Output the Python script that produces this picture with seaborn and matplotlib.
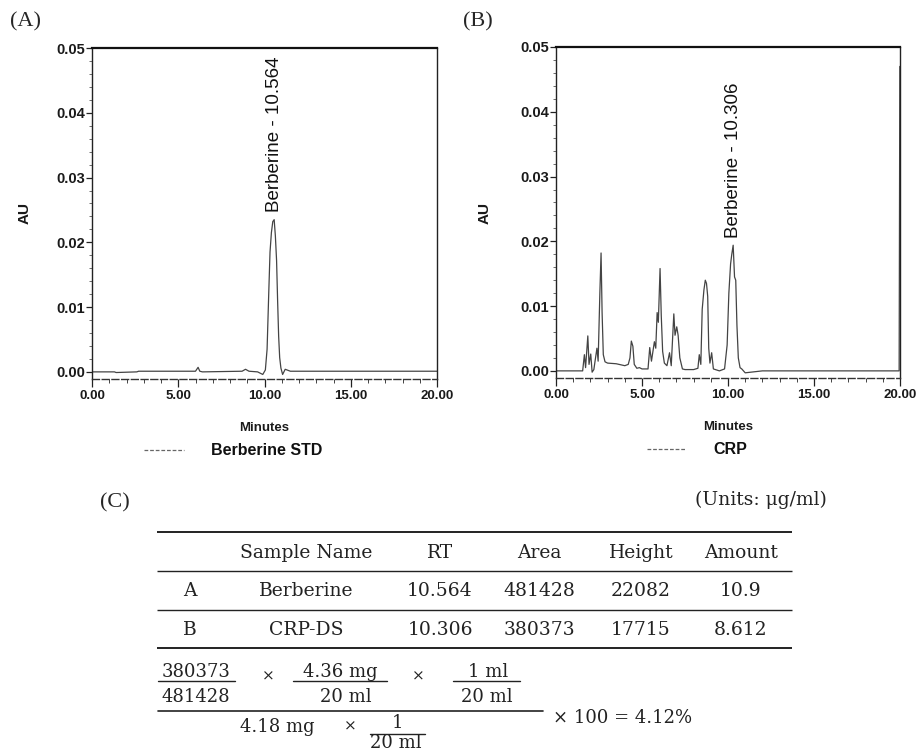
import matplotlib
matplotlib.use("Agg")
import matplotlib.pyplot as plt
import seaborn as sns
import pandas as pd
from matplotlib.lines import Line2D
from matplotlib.ticker import MultipleLocator, FormatStrFormatter

# ---------------- data ----------------
std_time = [0.0, 1.3, 1.4, 2.6, 2.7, 6.0, 6.15, 6.25, 6.4, 8.7, 8.9, 9.1, 9.6, 9.9,
            10.05, 10.15, 10.25, 10.32, 10.40, 10.48, 10.56, 10.63, 10.70, 10.76,
            10.82, 10.88, 10.95, 11.05, 11.2, 11.5, 20.0]
std_au = [0.0, 0.0, -0.0001, 0.0, 0.0001, 0.0001, 0.0007, 0.0001, 0.0, 0.0001, 0.0004,
          0.0001, 0.0, -0.0004, 0.0003, 0.0035, 0.0125, 0.0185, 0.0215, 0.0232, 0.0235,
          0.0210, 0.0172, 0.0110, 0.0055, 0.0022, 0.0006, -0.0004, 0.0004, 0.0001, 0.0001]

crp_time = [0.0, 1.55, 1.65, 1.72, 1.85, 1.92, 2.02, 2.10, 2.20, 2.38, 2.45, 2.55, 2.62,
            2.68, 2.75, 2.85, 3.0, 3.5, 4.0, 4.2, 4.3, 4.38, 4.47, 4.55, 4.7, 4.85, 5.0,
            5.35, 5.45, 5.55, 5.72, 5.80, 5.88, 5.95, 6.05, 6.12, 6.20, 6.30, 6.45, 6.60,
            6.70, 6.85, 6.92, 7.02, 7.10, 7.20, 7.35, 7.5, 8.0, 8.25, 8.33, 8.42, 8.50,
            8.60, 8.68, 8.75, 8.82, 8.88, 8.95, 9.05, 9.15, 9.5, 9.8, 9.95, 10.05, 10.15,
            10.22, 10.30, 10.38, 10.45, 10.52, 10.60, 10.70, 10.80, 11.0, 12.0, 15.0,
            18.0, 19.95, 19.99, 20.0]
crp_au = [0.0, 0.0, 0.0025, 0.0005, 0.0054, 0.0010, 0.0026, -0.0002, 0.0002, 0.0035,
          0.0015, 0.0120, 0.0182, 0.0090, 0.0025, 0.0014, 0.0012, 0.0011, 0.0008, 0.0010,
          0.0020, 0.0046, 0.0038, 0.0010, 0.0004, 0.0005, 0.0003, 0.0003, 0.0036, 0.0015,
          0.0045, 0.0035, 0.0090, 0.0075, 0.0158, 0.0085, 0.0030, 0.0012, 0.0008, 0.0028,
          0.0008, 0.0088, 0.0055, 0.0068, 0.0055, 0.0020, 0.0003, 0.0002, 0.0002, 0.0004,
          0.0025, 0.0010, 0.0095, 0.0125, 0.0140, 0.0135, 0.0115, 0.0035, 0.0012, 0.0028,
          0.0003, 0.0, 0.0003, 0.0040, 0.0120, 0.0165, 0.0180, 0.0194, 0.0145, 0.0140,
          0.0070, 0.0020, 0.0005, 0.0003, -0.0003, 0.0, 0.0, 0.0, 0.0, 0.0470, 0.0470]

x_ticks = [0, 5, 10, 15, 20]
y_ticks = [0.00, 0.01, 0.02, 0.03, 0.04, 0.05]
peak_labels = ["Berberine - 10.564", "Berberine - 10.306"]
peak_rt = [10.564, 10.306]
peak_label_base = [0.0247, 0.0205]
legend_labels = ["Berberine STD", "CRP"]
panel_labels = ["(A)", "(B)", "(C)"]

table_header = ["Sample Name", "RT", "Area", "Height", "Amount"]
row_ids = ["A", "B"]
sample_names = ["Berberine", "CRP-DS"]
rt_vals = ["10.564", "10.306"]
area_vals = ["481428", "380373"]
height_vals = ["22082", "17715"]
amount_vals = ["10.9", "8.612"]
units_text = "(Units: \u03bcg/ml)"

# ---------------- style ----------------
sns.set_theme(style="ticks")
plt.rcParams["font.family"] = ["Liberation Sans", "DejaVu Sans"]

W, H = 919, 751
fig = plt.figure(figsize=(W / 100, H / 100), dpi=100)
fig.patch.set_facecolor("white")


def px_box(left, right, top, bottom):
    return [left / W, 1 - bottom / H, (right - left) / W, (bottom - top) / H]


trace_color = "#444444"


def style_chrom(ax, ylab_x):
    ax.set_xlim(0, 20)
    ax.set_ylim(-0.0011, 0.05)
    ax.set_xticks(x_ticks)
    ax.set_yticks(y_ticks)
    ax.xaxis.set_minor_locator(MultipleLocator(1))
    ax.yaxis.set_minor_locator(MultipleLocator(0.002))
    ax.xaxis.set_major_formatter(FormatStrFormatter("%.2f"))
    ax.yaxis.set_major_formatter(FormatStrFormatter("%.2f"))
    ax.tick_params(axis="x", which="major", direction="out", length=6, width=0.9,
                   labelsize=9.5, pad=2, color="#222")
    ax.tick_params(axis="x", which="minor", direction="out", length=3, width=0.7,
                   color="#444")
    ax.tick_params(axis="y", which="major", direction="out", length=4, width=0.9,
                   labelsize=10.5, pad=1, color="#222")
    ax.tick_params(axis="y", which="minor", direction="out", length=2, width=0.6,
                   color="#555")
    for lab in ax.get_xticklabels() + ax.get_yticklabels():
        lab.set_fontweight("bold")
        lab.set_color("#1a1a1a")
    ax.spines["top"].set_linewidth(1.6)
    ax.spines["top"].set_color("#111")
    ax.spines["left"].set_linewidth(1.0)
    ax.spines["left"].set_color("#222")
    ax.spines["right"].set_linewidth(1.0)
    ax.spines["right"].set_color("#222")
    ax.spines["bottom"].set_linewidth(1.0)
    ax.spines["bottom"].set_color("#333")
    ax.spines["bottom"].set_linestyle((0, (5, 2)))
    ax.set_ylabel("AU", fontsize=11, fontweight="bold", color="#1a1a1a")
    ax.yaxis.set_label_coords(ylab_x, 0.5)
    ax.set_xlabel("Minutes", fontsize=9.5, fontweight="bold", color="#1a1a1a")
    ax.xaxis.set_label_coords(0.5, -0.13)
    ax.set_facecolor("white")


axA = fig.add_axes(px_box(92, 437, 48, 379))
axB = fig.add_axes(px_box(556, 900, 47, 378))

dfA = pd.DataFrame({"Minutes": std_time, "AU": std_au})
dfB = pd.DataFrame({"Minutes": crp_time, "AU": crp_au})

sns.lineplot(data=dfA, x="Minutes", y="AU", ax=axA, sort=False, estimator=None,
             color=trace_color, linewidth=0.9)
sns.lineplot(data=dfB, x="Minutes", y="AU", ax=axB, sort=False, estimator=None,
             color=trace_color, linewidth=0.9)

style_chrom(axA, -0.174)
style_chrom(axB, -0.186)

for ax, lab, rt, base in zip([axA, axB], peak_labels, peak_rt, peak_label_base):
    ax.text(rt, base, lab, rotation=90, ha="center", va="bottom", fontsize=13.5,
            color="#111", family="Liberation Sans")

for ax, lab in zip([axA, axB], legend_labels):
    h = Line2D([], [], color="#666", lw=0.9, ls=(0, (3, 1.5)))
    leg = ax.legend([h], [lab], loc="center", bbox_to_anchor=(0.41, -0.2175),
                    frameon=False, prop=dict(family="Liberation Sans", size=11.5,
                                             weight="bold"),
                    handlelength=2.5, handletextpad=1.7, borderpad=0,
                    borderaxespad=0)
    for t in leg.get_texts():
        t.set_color("#111")

# ---------------- panel C (table + formula) in pixel coordinates ----------------
axC = fig.add_axes([0, 0, 1, 1], zorder=-1)
axC.set_xlim(0, W)
axC.set_ylim(H, 0)
axC.axis("off")
axC.patch.set_visible(False)

serif = "Liberation Serif"
fig.text(10 / W, 1 - 22 / H, panel_labels[0], family=serif, fontsize=16,
         ha="left", va="center")
fig.text(463 / W, 1 - 22 / H, panel_labels[1], family=serif, fontsize=16,
         ha="left", va="center")
fig.text(100 / W, 1 - 503 / H, panel_labels[2], family=serif, fontsize=16,
         ha="left", va="center")

tfont = dict(family="DejaVu Serif", fontsize=13.5, color="#222")
axC.text(827, 500, units_text, ha="right", va="center", **tfont)

rule_y = [532, 571, 610, 648]
rule_w = [1.4, 1.0, 1.0, 1.4]
for y, lw in zip(rule_y, rule_w):
    axC.plot([157, 792], [y, y], color="#222", lw=lw, solid_capstyle="butt")

col_x = [190, 306, 440, 539, 641, 741]
row_y = [553, 591, 630]
for cx, txt in zip(col_x[1:], table_header):
    axC.text(cx, row_y[0], txt, ha="center", va="center", **tfont)
rows = list(zip(row_ids, sample_names, rt_vals, area_vals, height_vals, amount_vals))
for ry, row in zip(row_y[1:], rows):
    for cx, txt in zip(col_x, row):
        axC.text(cx, ry, txt, ha="center", va="center", **tfont)

ffont = dict(family="DejaVu Serif", fontsize=13, color="#222")
xfont = dict(family="DejaVu Serif", fontsize=11, color="#222")
# numerator fractions
axC.text(196, 672, area_vals[1], ha="center", va="center", **ffont)
axC.plot([158, 235], [681, 681], color="#222", lw=1.0)
axC.text(196, 697, area_vals[0], ha="center", va="center", **ffont)
axC.text(268, 676, "\u00d7", ha="center", va="center", **xfont)
axC.text(340, 672, "4.36 mg", ha="center", va="center", **ffont)
axC.plot([293, 387], [681, 681], color="#222", lw=1.0)
axC.text(346, 697, "20 ml", ha="center", va="center", **ffont)
axC.text(418, 676, "\u00d7", ha="center", va="center", **xfont)
axC.text(488, 672, "1 ml", ha="center", va="center", **ffont)
axC.plot([453, 520], [681, 681], color="#222", lw=1.0)
axC.text(487, 697, "20 ml", ha="center", va="center", **ffont)
# main fraction bar
axC.plot([158, 543], [711, 711], color="#222", lw=1.2)
# denominator
axC.text(277, 727, "4.18 mg", ha="center", va="center", **ffont)
axC.text(350, 727, "\u00d7", ha="center", va="center", **xfont)
axC.text(397, 723, "1", ha="center", va="center", **ffont)
axC.plot([370, 425], [734, 734], color="#222", lw=1.0)
axC.text(396, 743, "20 ml", ha="center", va="center", **ffont)
axC.text(553, 718, "\u00d7 100 = 4.12%", ha="left", va="center", **ffont)

fig.savefig("out.png", dpi=100, facecolor="white")
